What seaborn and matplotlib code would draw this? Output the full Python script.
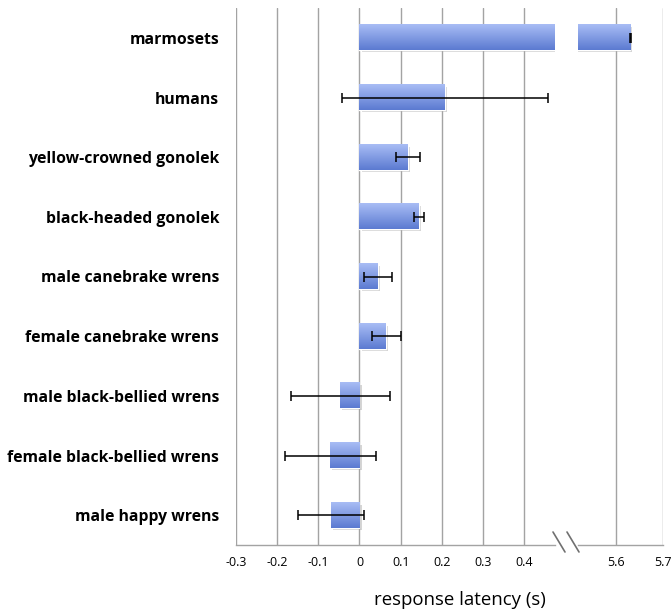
import numpy as np
import pandas as pd
import matplotlib
matplotlib.use('Agg')
import matplotlib.pyplot as plt
import matplotlib.patheffects as pe
import seaborn as sns
from matplotlib.lines import Line2D

categories = ['marmosets', 'humans', 'yellow-crowned gonolek', 'black-headed gonolek',
              'male canebrake wrens', 'female canebrake wrens', 'male black-bellied wrens',
              'female black-bellied wrens', 'male happy wrens']
latency = [5.63, 0.208, 0.118, 0.144, 0.046, 0.065, -0.047, -0.071, -0.069]
err = [0.001, 0.25, 0.03, 0.012, 0.034, 0.035, 0.12, 0.11, 0.08]

left_ticks = [-0.3, -0.2, -0.1, 0, 0.1, 0.2, 0.3, 0.4]
left_labels = ['-0.3', '-0.2', '-0.1', '0', '0.1', '0.2', '0.3', '0.4']
right_ticks = [5.6, 5.7]
right_labels = ['5.6', '5.7']

df = pd.DataFrame({'species': categories, 'latency': latency, 'err': err})

sns.set_style('white')
plt.rcParams['font.family'] = ['Open Sans', 'DejaVu Sans']
plt.rcParams['text.color'] = 'black'
plt.rcParams['xtick.color'] = 'black'
plt.rcParams['ytick.color'] = 'black'

fig = plt.figure(figsize=(6.71, 6.16), dpi=100)
W, H = 671, 616
ax1 = fig.add_axes([236 / W, 71 / H, (555 - 236) / W, 537 / H])
ax2 = fig.add_axes([578 / W, 71 / H, (663 - 578) / W, 537 / H])

grid_c = '#a3a3a3'
top_c = np.array([0.66, 0.74, 0.96])
bot_c = np.array([0.36, 0.48, 0.82])
grad = np.linspace(0, 1, 64)[:, None, None]
grad_img = top_c * (1 - grad) + bot_c * grad

for ax, lim in [(ax1, (-0.3, 0.4 + (555 - 524) / 413)), (ax2, (5.7 - 85 / 470, 5.7))]:
    sns.barplot(data=df, x='latency', y='species', orient='h', color='#7b95e0',
                errorbar=None, width=0.42, ax=ax, zorder=2)
    ylim = ax.get_ylim()
    for p in ax.patches:
        p.set_path_effects([pe.SimplePatchShadow(offset=(1.5, -1.5), shadow_rgbFace='#888888', alpha=0.35), pe.Normal()])
        x0, y0, w, h = p.get_x(), p.get_y(), p.get_width(), p.get_height()
        ax.imshow(grad_img, extent=(x0, x0 + w, y0 + h, y0), origin='upper',
                  aspect='auto', zorder=2.5)
    ax.errorbar(df['latency'], np.arange(len(categories)), xerr=df['err'], fmt='none',
                ecolor='black', elinewidth=1.1, capsize=3.5, capthick=1.1, zorder=3)
    ax.set_xlim(*lim)
    ax.set_ylim(ylim)
    ax.set_xlabel('')
    ax.set_ylabel('')
    ax.xaxis.grid(True, color=grid_c, linewidth=1)
    ax.set_axisbelow(True)
    ax.tick_params(axis='both', length=0)
    for s in ['top', 'right', 'left']:
        ax.spines[s].set_visible(False)
    ax.spines['bottom'].set_color(grid_c)
    ax.spines['bottom'].set_linewidth(1)

ax1.set_xticks(left_ticks)
ax1.set_xticklabels(left_labels, fontsize=9)
ax1.tick_params(axis='x', pad=8)
ax1.tick_params(axis='y', pad=12)
ax1.set_yticks(range(len(categories)))
ax1.set_yticklabels(categories, fontsize=11.3, fontweight='bold')

ax2.set_xticks(right_ticks)
ax2.set_xticklabels(right_labels, fontsize=9)
ax2.tick_params(axis='x', pad=8)
ax2.set_yticks([])

# break marks on the x axis
for x0 in [553, 567]:
    fig.add_artist(Line2D([x0 / W, (x0 + 12) / W], [(H - 538 + 6) / H, (H - 558 + 6) / H],
                          color='#707070', linewidth=1.2))

fig.text(460 / W, (H - 600) / H, 'response latency (s)', ha='center', va='center', fontsize=13.4)

fig.savefig('out.png', dpi=100)
